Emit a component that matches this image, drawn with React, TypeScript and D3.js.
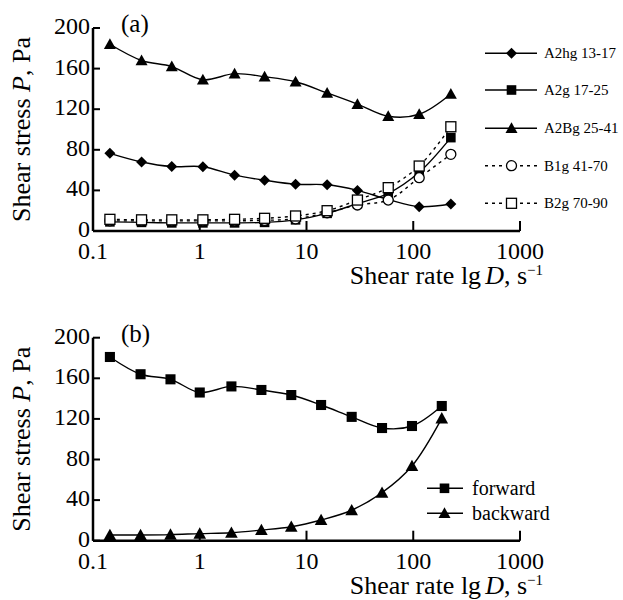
import React from "react";
import * as d3 from "d3";

// Panel (a)
const xA = [0.144, 0.285, 0.547, 1.07, 2.12, 4.05, 7.9, 15.6, 30, 58.3, 113.7, 225];
const a2hg = [76.5, 68, 63.5, 63.3, 55, 50, 46, 45.5, 40, 31, 24, 26.6];
const a2g = [9, 8.5, 8, 8, 8, 8.5, 11, 17.4, 27, 37, 57.8, 92];
const a2bg = [184, 168, 162, 149, 155, 152, 147, 136, 125, 113, 115, 135];
const b1g = [10, 10, 10, 10, 10, 10.5, 12, 18, 25.6, 30.5, 52.5, 75.5];
const b2g = [11.5, 11, 11, 11, 11.5, 12.5, 14.8, 20, 30.5, 42.7, 64, 102.7];
const seriesANames = ["A2hg 13-17", "A2g 17-25", "A2Bg 25-41", "B1g 41-70", "B2g 70-90"];

// Panel (b)
const xB = [0.144, 0.279, 0.532, 1.0, 1.98, 3.78, 7.2, 13.7, 26.5, 51, 97.3, 185];
const forward = [181, 164, 159, 146, 152, 148.5, 143.5, 133.7, 122, 111, 113, 132.7];
const backward = [5.6, 5.6, 6, 7, 7.9, 10.5, 13.8, 20.4, 30, 47.3, 73.6, 120.5];
const seriesBNames = ["forward", "backward"];

const xTicks = [0.1, 1, 10, 100, 1000];
const xTickLabels = ["0.1", "1", "10", "100", "1000"];
const yTicks = [0, 40, 80, 120, 160, 200];

const FONT = "'Liberation Serif', 'Times New Roman', serif";

type Shape = "diamond" | "square" | "triangle" | "circle" | "osquare";

function Marker({ shape, x, y, s = 1 }: { shape: Shape; x: number; y: number; s?: number }) {
  switch (shape) {
    case "diamond": {
      const r = 5.5 * s;
      return <path d={`M${x},${y - r}L${x + r},${y}L${x},${y + r}L${x - r},${y}Z`} fill="#000" />;
    }
    case "square": {
      const r = 4.8 * s;
      return <rect x={x - r} y={y - r} width={2 * r} height={2 * r} fill="#000" />;
    }
    case "triangle": {
      const r = 6 * s;
      return <path d={`M${x},${y - r}L${x + r},${y + r * 0.8}L${x - r},${y + r * 0.8}Z`} fill="#000" />;
    }
    case "circle":
      return <circle cx={x} cy={y} r={5 * s} fill="#fff" stroke="#000" strokeWidth={1.3} />;
    case "osquare": {
      const r = 5 * s;
      return <rect x={x - r} y={y - r} width={2 * r} height={2 * r} fill="#fff" stroke="#000" strokeWidth={1.3} />;
    }
  }
  return null;
}

function Axes({ x, y, label }: { x: d3.ScaleLogarithmic<number, number>; y: d3.ScaleLinear<number, number>; label: string }) {
  const x0 = x(0.1);
  const x1 = x(1000);
  const y0 = y(0);
  const y1 = y(200);
  return (
    <g fontFamily={FONT} fill="#000">
      <line x1={x0} x2={x1} y1={y0} y2={y0} stroke="#000" strokeWidth={2.5} />
      <line x1={x0} x2={x0} y1={y0} y2={y1} stroke="#000" strokeWidth={2.5} />
      {yTicks.map((t) => (
        <g key={t}>
          <line x1={x0} x2={x0 + 7} y1={y(t)} y2={y(t)} stroke="#000" strokeWidth={2} />
          <text x={x0 - 3} y={y(t) + 6} fontSize={24} textAnchor="end">{t}</text>
        </g>
      ))}
      {xTicks.map((t, i) => (
        <g key={t}>
          <line x1={x(t)} x2={x(t)} y1={y0} y2={y0 - 10} stroke="#000" strokeWidth={2} />
          <text x={x(t)} y={y0 + 28} fontSize={24} textAnchor="middle">{xTickLabels[i]}</text>
        </g>
      ))}
      <text x={x0 + 28} y={y1 + 4} fontSize={25}>{label}</text>
      <text transform={`translate(30,${(y0 + y1) / 2}) rotate(-90)`} fontSize={26} textAnchor="middle">
        Shear stress <tspan fontStyle="italic">P</tspan>, Pa
      </text>
      <text x={x1 + 23} y={y0 + 53} fontSize={26} textAnchor="end">
        Shear rate lg<tspan fontStyle="italic" dx={4}>D</tspan>, s<tspan fontSize={15} dy={-9}>−1</tspan>
      </text>
    </g>
  );
}

export default function App() {
  const x = d3.scaleLog().domain([0.1, 1000]).range([93, 520]);
  const ya = d3.scaleLinear().domain([0, 200]).range([231, 28]);
  const yb = d3.scaleLinear().domain([0, 200]).range([540.7, 337.7]);

  const lineGen = (xs: number[], ys: number[], yScale: d3.ScaleLinear<number, number>) =>
    d3
      .line<number>()
      .x((_, i) => x(xs[i]))
      .y((v) => yScale(v))
      .curve(d3.curveCatmullRom.alpha(0.5))(ys) || "";

  const seriesA: { vals: number[]; shape: Shape; dash?: string }[] = [
    { vals: a2hg, shape: "diamond" },
    { vals: a2g, shape: "square" },
    { vals: a2bg, shape: "triangle" },
    { vals: b1g, shape: "circle", dash: "3,4" },
    { vals: b2g, shape: "osquare", dash: "3,4" },
  ];
  const seriesB: { vals: number[]; shape: Shape }[] = [
    { vals: forward, shape: "square" },
    { vals: backward, shape: "triangle" },
  ];
  const legAY = [53.3, 90, 128.3, 165.7, 203.3];
  const legBY = [488.3, 513.3];

  return (
    <svg width={623} height={600} style={{ position: "absolute", left: 0, top: 0, background: "#fff" }}>
      <rect width={623} height={600} fill="#fff" />
      <Axes x={x} y={ya} label="(a)" />
      {seriesA.map((s, k) => (
        <path key={"la" + k} d={lineGen(xA, s.vals, ya)} fill="none" stroke="#000" strokeWidth={1.4} strokeDasharray={s.dash} />
      ))}
      {seriesA.map((s, k) => (
        <g key={"ma" + k}>
          {s.vals.map((v, i) => (
            <Marker key={i} shape={s.shape} x={x(xA[i])} y={ya(v)} />
          ))}
        </g>
      ))}
      {seriesA.map((s, k) => (
        <g key={"lga" + k}>
          <line x1={485} x2={537} y1={legAY[k]} y2={legAY[k]} stroke="#000" strokeWidth={1.4} strokeDasharray={s.dash} />
          <Marker shape={s.shape} x={511.5} y={legAY[k]} />
          <text x={544} y={legAY[k] + 5} fontSize={15} fontFamily={FONT}>{seriesANames[k]}</text>
        </g>
      ))}

      <Axes x={x} y={yb} label="(b)" />
      {seriesB.map((s, k) => (
        <path key={"lb" + k} d={lineGen(xB, s.vals, yb)} fill="none" stroke="#000" strokeWidth={1.4} />
      ))}
      {seriesB.map((s, k) => (
        <g key={"mb" + k}>
          {s.vals.map((v, i) => (
            <Marker key={i} shape={s.shape} x={x(xB[i])} y={yb(v)} s={1.05} />
          ))}
        </g>
      ))}
      {seriesB.map((s, k) => (
        <g key={"lgb" + k}>
          <line x1={427} x2={463} y1={legBY[k]} y2={legBY[k]} stroke="#000" strokeWidth={1.4} />
          <Marker shape={s.shape} x={444.5} y={legBY[k]} />
          <text x={472} y={legBY[k] + 6.5} fontSize={20} fontFamily={FONT}>{seriesBNames[k]}</text>
        </g>
      ))}
    </svg>
  );
}
